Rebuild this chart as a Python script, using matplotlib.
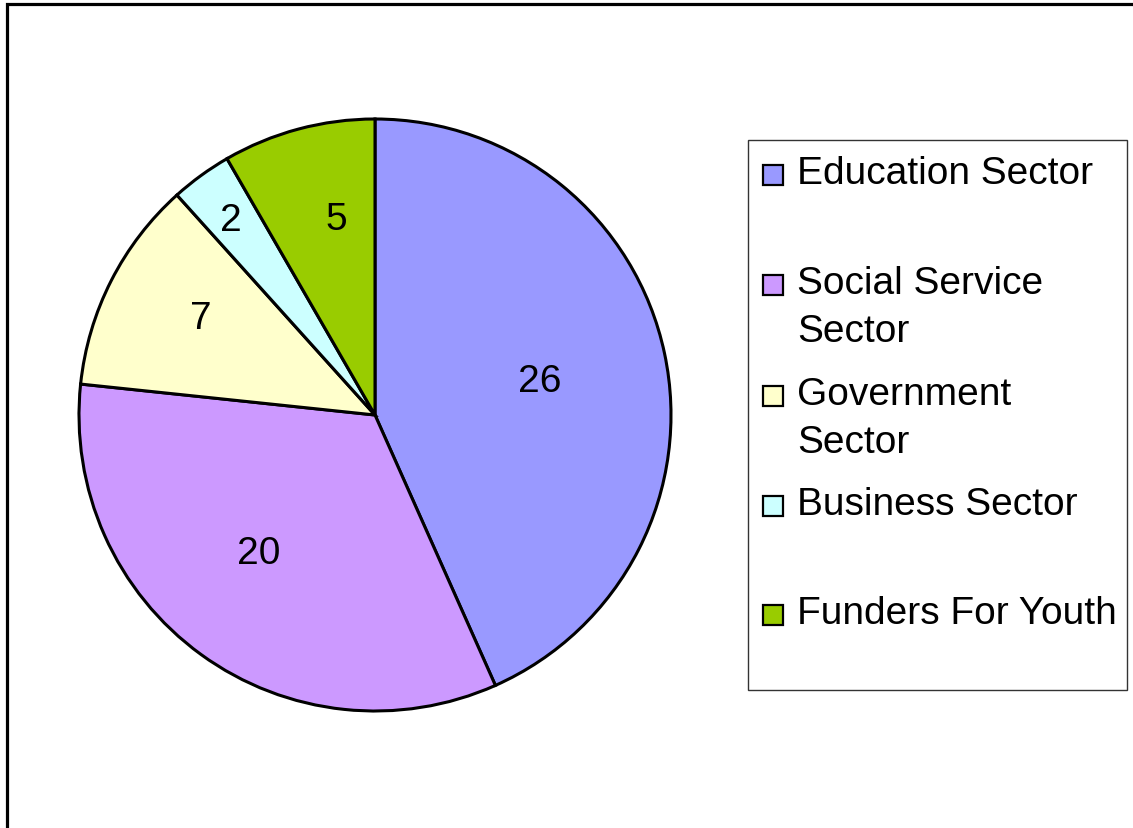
import matplotlib.pyplot as plt
import numpy as np
from matplotlib.patches import Rectangle

plt.rcParams['font.family'] = ['Liberation Sans', 'DejaVu Sans']

# Data
sectors = ["Education Sector", "Social Service\nSector", "Government\nSector",
           "Business Sector", "Funders For Youth"]
counts = [26, 20, 7, 2, 5]
colours = ["#9999FF", "#CC99FF", "#FFFFCC", "#CCFFFF", "#99CC00"]

# label placement: fraction of radius and angle shift from slice middle (deg)
label_dist = [0.57, 0.60, 0.68, 0.83, 0.69]
label_shift = [1, -5, -3, 0, -4]

W, H = 1133, 829
fig = plt.figure(figsize=(W / 100, H / 100), dpi=100)

# outer frame (cut off at right and bottom)
fig.patches.append(Rectangle((7 / W, -0.1), 1.2, (H - 5) / H + 0.1,
                             transform=fig.transFigure, fill=False,
                             edgecolor="black", linewidth=2.3))

# pie axes: centre (375, 416), radius ~296 px
cx, cy, r = 375, 416, 298
ax = fig.add_axes([(cx - r) / W, (H - cy - r) / H, 2 * r / W, 2 * r / H])
wedges, _ = ax.pie(counts, colors=colours, startangle=90, counterclock=False,
                   radius=1, wedgeprops=dict(edgecolor="black", linewidth=2.2))
lim = 298 / 296
ax.set_xlim(-lim, lim)
ax.set_ylim(-lim, lim)
ax.axis("off")

# value labels
for w, v, d, s in zip(wedges, counts, label_dist, label_shift):
    ang = np.deg2rad((w.theta1 + w.theta2) / 2 + s)
    ax.text(d * np.cos(ang), d * np.sin(ang), str(v), ha="center",
            va="center_baseline", fontsize=28)

# legend box drawn by hand
lx0, ly0, lx1, ly1 = 748, 141, 1127, 691
fig.patches.append(Rectangle((lx0 / W, 1 - ly1 / H), (lx1 - lx0) / W, (ly1 - ly0) / H,
                             transform=fig.transFigure, facecolor="white",
                             edgecolor="#333333", linewidth=1))
row_y = [172, 282, 393, 503, 612]
for lab, col, yy in zip(sectors, colours, row_y):
    fig.patches.append(Rectangle((763 / W, 1 - (yy + 14) / H), 20 / W, 20 / H,
                                 transform=fig.transFigure, facecolor=col,
                                 edgecolor="black", linewidth=1.6))
    fig.text(797 / W, 1 - (yy - 16) / H, lab, ha="left", va="top",
             fontsize=28, linespacing=1.42)

plt.savefig("out.png", dpi=100)
